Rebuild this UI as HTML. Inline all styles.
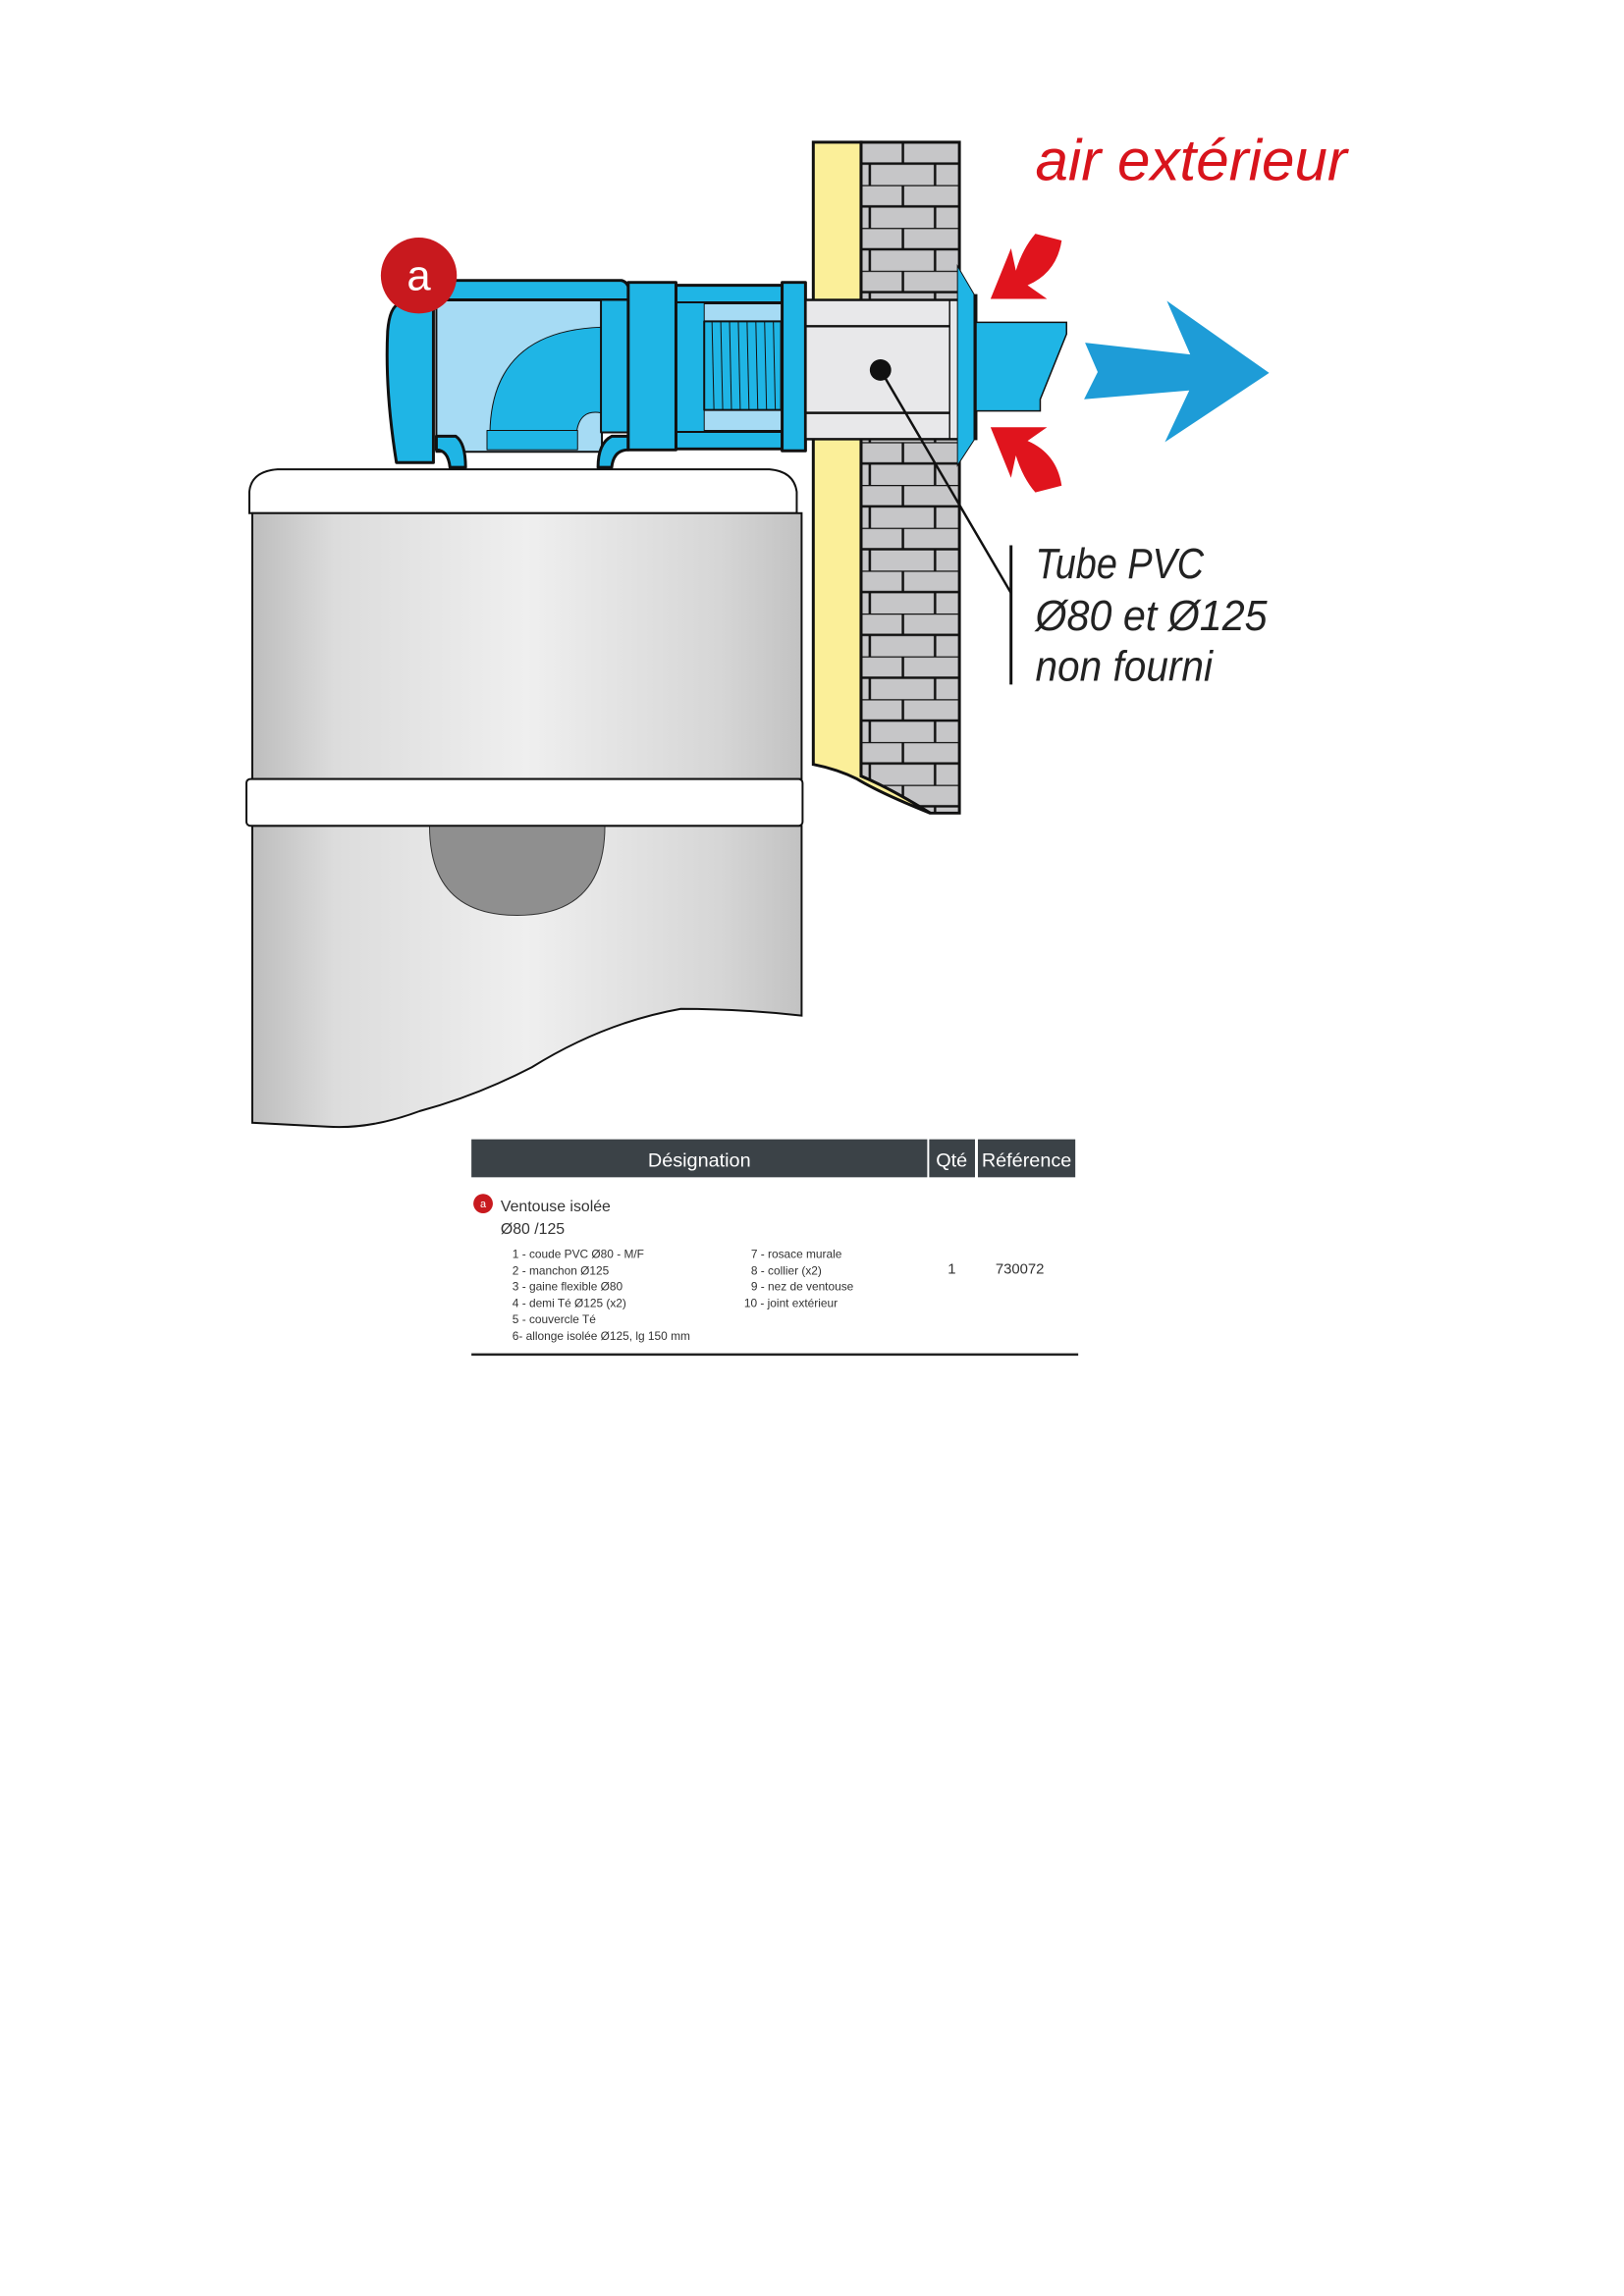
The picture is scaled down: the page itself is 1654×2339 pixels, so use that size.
<!DOCTYPE html>
<html><head><meta charset="utf-8"><style>html,body{margin:0;padding:0;background:#fff}svg{display:block}</style></head>
<body>
<svg width="1654" height="2339" viewBox="0 0 1654 2339" xmlns="http://www.w3.org/2000/svg" font-family="Liberation Sans, sans-serif">
<defs>
<linearGradient id="g" x1="0" x2="1" y1="0" y2="0">
<stop offset="0" stop-color="#bdbdbd"/><stop offset="0.15" stop-color="#dcdcdc"/><stop offset="0.5" stop-color="#efefef"/><stop offset="0.85" stop-color="#d6d6d6"/><stop offset="1" stop-color="#c2c2c2"/></linearGradient>
<pattern id="br" x="884" y="146" width="101" height="44" patternUnits="userSpaceOnUse">
<rect width="101" height="44" fill="#c6c6c8"/>
<line x1="0" y1="0" x2="101" y2="0" stroke="#111" stroke-width="2.5"/>
<line x1="0" y1="22" x2="101" y2="22" stroke="#111" stroke-width="2.5"/>
<line x1="43" y1="0" x2="43" y2="22" stroke="#111" stroke-width="2.5"/>
<line x1="9" y1="22" x2="9" y2="44" stroke="#111" stroke-width="2.5"/>
<line x1="76" y1="22" x2="76" y2="44" stroke="#111" stroke-width="2.5"/>
</pattern>
</defs>
<g transform="scale(0.992)">
<!-- wall -->
<path d="M884,146 L985,146 L985,835 L955,835 Q915,810 884,797 Z" fill="url(#br)" stroke="#111" stroke-width="3"/>
<path d="M835,146 L884,146 L884,797 Q915,810 955,835 Q905,815 880,800 Q860,790 835,785 Z" fill="#fbef99" stroke="#111" stroke-width="3"/>

<!-- boiler -->
<path d="M256,527 L256,505 Q258,484 285,482 L790,482 Q815,484 818,505 L818,527 Z" fill="#fff" stroke="#111" stroke-width="2"/>
<rect x="259" y="527" width="564" height="273" fill="url(#g)" stroke="#111" stroke-width="2"/>
<path d="M259,848 L823,848 L823,1043 Q760,1036 699,1036 Q620,1050 546,1096 Q490,1125 431,1141 Q380,1160 336,1157 L259,1153 Z" fill="url(#g)" stroke="#111" stroke-width="2"/>
<path d="M441,848 L621,848 Q621,940 531,940 Q441,940 441,848 Z" fill="#8f8f8f" stroke="#333" stroke-width="1"/>
<rect x="253" y="800" width="571" height="48" rx="4" fill="#fff" stroke="#111" stroke-width="2"/>

<!-- duct -->
<g stroke="#111" stroke-linejoin="round">
<rect x="448" y="306" width="170" height="158" fill="#a6dbf4" stroke-width="2"/>
<path d="M503,444 Q505,340 617,336 L617,424 Q595,420 592,444 Z" fill="#1fb5e5" stroke-width="1"/>
<rect x="500" y="442" width="93" height="20" fill="#1fb5e5" stroke-width="1"/>
<path d="M448,448 L468,448 Q478,455 478,480 L462,480 Q460,462 448,462 Z" fill="#1fb5e5" stroke-width="3"/>
<path d="M645,448 L628,448 Q614,455 614,480 L628,480 Q630,462 645,462 Z" fill="#1fb5e5" stroke-width="3"/>
<path d="M445,288 L638,288 Q646,290 646,300 L646,308 L445,308 Z" fill="#1fb5e5" stroke-width="3"/>
<path d="M445,312 L445,475 L407,475 Q395,400 398,340 Q400,315 410,312 Z" fill="#1fb5e5" stroke-width="3"/>
<rect x="617" y="308" width="28" height="136" fill="#1fb5e5" stroke-width="2"/>
<rect x="694" y="293" width="109" height="168" fill="#a6dbf4" stroke-width="2"/>
<rect x="694" y="293" width="109" height="18" fill="#1fb5e5" stroke-width="3"/>
<rect x="694" y="443" width="109" height="18" fill="#1fb5e5" stroke-width="3"/>
<rect x="694" y="311" width="29" height="132" fill="#1fb5e5" stroke-width="1"/>
<rect x="723" y="330" width="79" height="91" fill="#1fb5e5" stroke-width="2"/>
<g stroke-width="1"><line x1="731" y1="330" x2="733" y2="421"/><line x1="740" y1="330" x2="742" y2="421"/><line x1="749" y1="330" x2="751" y2="421"/><line x1="758" y1="330" x2="760" y2="421"/><line x1="767" y1="330" x2="769" y2="421"/><line x1="776" y1="330" x2="778" y2="421"/><line x1="785" y1="330" x2="787" y2="421"/><line x1="794" y1="330" x2="796" y2="421"/></g>
<rect x="645" y="290" width="49" height="172" fill="#1fb5e5" stroke-width="3"/>
<rect x="803" y="290" width="24" height="173" fill="#1fb5e5" stroke-width="3"/>
</g>

<!-- sleeve -->
<rect x="827" y="308" width="158" height="143" fill="#e8e8ea" stroke="#111" stroke-width="2.5"/>
<line x1="827" y1="335" x2="975" y2="335" stroke="#111" stroke-width="2.5"/>
<line x1="827" y1="424" x2="975" y2="424" stroke="#111" stroke-width="2.5"/>
<line x1="975" y1="308" x2="975" y2="451" stroke="#111" stroke-width="1.5"/>
<!-- rosace -->
<path d="M983,273 L1000,302 L1000,452 L983,478 Z" fill="#1fb5e5" stroke="#111" stroke-width="1"/>
<line x1="1002" y1="302" x2="1002" y2="452" stroke="#111" stroke-width="3"/>
<path d="M1002,331 L1095,331 L1095,343 L1068,410 L1068,422 L1002,422 Z" fill="#1fb5e5" stroke="#111" stroke-width="1.5"/>

<!-- arrows -->
<path d="M1114,352 L1127,382 L1113,410 L1221,401 L1196,454 L1303,383 L1198,309 L1222,364 Z" fill="#1e9cd7"/>
<path d="M1017,307 L1038,255 L1043,278 Q1050,255 1063,240 L1090,247 Q1085,280 1055,293 L1075,307 Z" fill="#e0141d"/>
<path d="M1017,307 L1038,255 L1043,278 Q1050,255 1063,240 L1090,247 Q1085,280 1055,293 L1075,307 Z" fill="#e0141d" transform="translate(0,745.7) scale(1,-1)"/>

<!-- leader -->
<circle cx="904" cy="380" r="11" fill="#111"/>
<line x1="904" y1="380" x2="1038" y2="609" stroke="#111" stroke-width="2.5"/>
<line x1="1038" y1="560" x2="1038" y2="703" stroke="#111" stroke-width="3"/>

<text x="1063" y="185" font-size="60" font-style="italic" fill="#d8141c" textLength="320" lengthAdjust="spacingAndGlyphs">air extérieur</text>
<g font-size="44" font-style="italic" fill="#222">
<text x="1063" y="594" textLength="173" lengthAdjust="spacingAndGlyphs">Tube PVC</text>
<text x="1063" y="647" textLength="238" lengthAdjust="spacingAndGlyphs">Ø80 et Ø125</text>
<text x="1063" y="699" textLength="182" lengthAdjust="spacingAndGlyphs">non fourni</text>
</g>

<circle cx="430" cy="283" r="39" fill="#c8191e"/>
<text x="430" y="298" font-size="44" fill="#fff" text-anchor="middle">a</text>

<!-- table -->
<rect x="484" y="1170" width="468" height="39" fill="#3b4247"/>
<rect x="954" y="1170" width="47" height="39" fill="#3b4247"/>
<rect x="1004" y="1170" width="100" height="39" fill="#3b4247"/>
<g fill="#fff" font-size="20" text-anchor="middle">
<text x="718" y="1198">Désignation</text><text x="977" y="1198">Qté</text><text x="1054" y="1198">Référence</text></g>
<circle cx="496" cy="1236" r="10" fill="#c8191e"/>
<text x="496" y="1240" font-size="11" fill="#fff" text-anchor="middle">a</text>
<g fill="#333">
<text x="514" y="1244" font-size="16">Ventouse isolée</text>
<text x="514" y="1267" font-size="16">Ø80 /125</text>
<g font-size="12">
<text x="526" y="1292">1 - coude PVC Ø80 - M/F</text>
<text x="526" y="1309">2 - manchon Ø125</text>
<text x="526" y="1325">3 - gaine flexible Ø80</text>
<text x="526" y="1342">4 - demi Té Ø125 (x2)</text>
<text x="526" y="1359">5 - couvercle Té</text>
<text x="526" y="1376">6- allonge isolée Ø125, lg 150 mm</text>
<text x="771" y="1292">7 - rosace murale</text>
<text x="771" y="1309">8 - collier (x2)</text>
<text x="771" y="1325">9 - nez de ventouse</text>
<text x="764" y="1342">10 - joint extérieur</text>
</g>
<text x="973" y="1308" font-size="15">1</text>
<text x="1022" y="1308" font-size="15">730072</text>
</g>
<line x1="484" y1="1391" x2="1107" y2="1391" stroke="#222" stroke-width="2.5"/>
</g>
</svg>
</body></html>
